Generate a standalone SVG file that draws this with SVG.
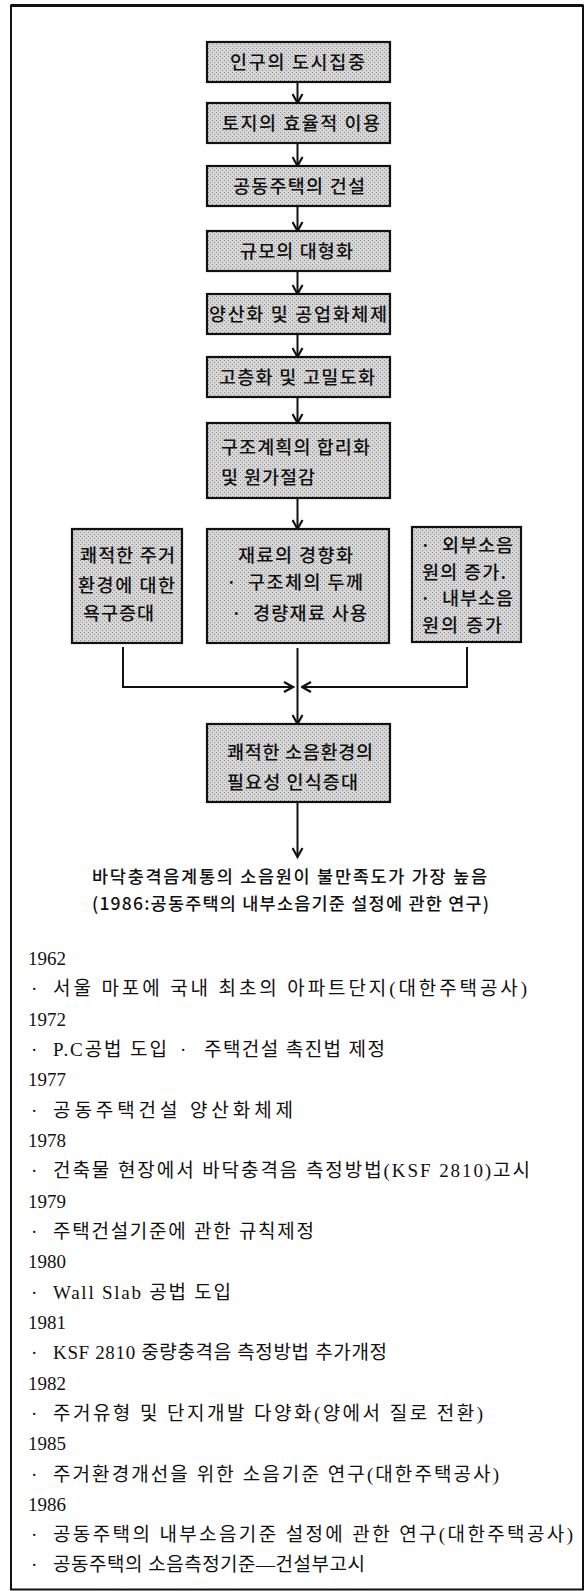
<svg xmlns="http://www.w3.org/2000/svg" width="586" height="1591" viewBox="0 0 586 1591">
<style>
.bx{fill:url(#stip);stroke:#111;stroke-width:2.2}
.bt{font-family:"Noto Sans CJK KR","Noto Sans",sans-serif;font-size:18.5px;font-weight:500;fill:#111}
.ct{font-family:"Noto Sans CJK KR","Noto Sans",sans-serif;font-size:17.5px;font-weight:500;fill:#111}
.tl{font-family:"Liberation Serif","Noto Sans CJK KR",serif;font-size:19px;fill:#111}
.ln{fill:none;stroke:#111;stroke-width:2}
.ar{fill:none;stroke:#111;stroke-width:2;marker-end:url(#ah)}
</style>
<defs>
<pattern id="stip" width="4" height="4" patternUnits="userSpaceOnUse">
<rect width="4" height="4" fill="#d6d6d6"/>
<rect x="0" y="0" width="1" height="1" fill="#8c8c8c"/>
<rect x="2" y="2" width="1" height="1" fill="#8c8c8c"/>
</pattern>
<marker id="ah" markerUnits="userSpaceOnUse" viewBox="0 0 12 12" refX="10.5" refY="6" markerWidth="12" markerHeight="12" orient="auto">
<path d="M1.5,1 L10.5,6 L1.5,11" fill="none" stroke="#111" stroke-width="2.2"/>
</marker>
</defs>
<rect x="0" y="0" width="586" height="1591" fill="#fff"/>
<rect x="11" y="5.5" width="572" height="1584" fill="none" stroke="#111" stroke-width="2"/>
<line x1="11" y1="5.5" x2="583" y2="5.5" stroke="#111" stroke-width="3"/>

<g id="connectors">
<line class="ar" x1="297.5" y1="82" x2="297.5" y2="103"/>
<line class="ar" x1="297.5" y1="143" x2="297.5" y2="166"/>
<line class="ar" x1="297.5" y1="206" x2="297.5" y2="231"/>
<line class="ar" x1="297.5" y1="271" x2="297.5" y2="294"/>
<line class="ar" x1="297.5" y1="334" x2="297.5" y2="357"/>
<line class="ar" x1="297.5" y1="397" x2="297.5" y2="423"/>
<line class="ar" x1="297.5" y1="498" x2="297.5" y2="529"/>
<polyline class="ar" points="123,647 123,687 293,687"/>
<polyline class="ar" points="467,647 467,687 302,687"/>
<line class="ar" x1="297.5" y1="648" x2="297.5" y2="724"/>
<line class="ar" x1="297.5" y1="802" x2="297.5" y2="857"/>
</g>

<g id="n1"><rect class="bx" x="207" y="42" width="183" height="40"/>
<text class="bt" x="230" y="68.5" textLength="135">인구의 도시집중</text></g>
<g id="n2"><rect class="bx" x="207" y="103" width="183" height="40"/>
<text class="bt" x="222" y="129.5" textLength="158">토지의 효율적 이용</text></g>
<g id="n3"><rect class="bx" x="207" y="166" width="183" height="40"/>
<text class="bt" x="233" y="192.5" textLength="132">공동주택의 건설</text></g>
<g id="n4"><rect class="bx" x="207" y="231" width="183" height="40"/>
<text class="bt" x="240" y="257.5" textLength="113">규모의 대형화</text></g>
<g id="n5"><rect class="bx" x="207" y="294" width="183" height="40"/>
<text class="bt" x="209" y="320.5" textLength="178">양산화 및 공업화체제</text></g>
<g id="n6"><rect class="bx" x="207" y="357" width="183" height="40"/>
<text class="bt" x="219" y="383.5" textLength="156">고층화 및 고밀도화</text></g>
<g id="n7"><rect class="bx" x="207" y="423" width="183" height="75"/>
<text class="bt" x="221" y="453.5" textLength="149">구조계획의 합리화</text>
<text class="bt" x="221" y="483.5" textLength="94">및 원가절감</text></g>
<g id="n8"><rect class="bx" x="72" y="529" width="110" height="114"/>
<text class="bt" x="80" y="561.5" textLength="95">쾌적한 주거</text>
<text class="bt" x="78" y="591.5" textLength="97">환경에 대한</text>
<text class="bt" x="83" y="619.5" textLength="71">욕구증대</text></g>
<g id="n9"><rect class="bx" x="207" y="529" width="182" height="114"/>
<text class="bt" x="238" y="561.5" textLength="115">재료의 경향화</text>
<text class="bt" x="226" y="588.5">·</text>
<text class="bt" x="248" y="588.5" textLength="115">구조체의 두께</text>
<text class="bt" x="231" y="619.5">·</text>
<text class="bt" x="253" y="619.5" textLength="114">경량재료 사용</text></g>
<g id="n10"><rect class="bx" x="412" y="527" width="109" height="115"/>
<text class="bt" x="420" y="551.5">·</text>
<text class="bt" x="442" y="551.5" textLength="71">외부소음</text>
<text class="bt" x="422" y="578.5" textLength="84">원의 증가.</text>
<text class="bt" x="420" y="604.5">·</text>
<text class="bt" x="442" y="604.5" textLength="71">내부소음</text>
<text class="bt" x="422" y="631.5" textLength="80">원의 증가</text></g>
<g id="n11"><rect class="bx" x="207" y="724" width="183" height="78"/>
<text class="bt" x="227" y="758.5" textLength="146">쾌적한 소음환경의</text>
<text class="bt" x="227" y="788.5" textLength="131">필요성 인식증대</text></g>

<g id="result">
<text class="ct" x="92" y="883" textLength="395">바닥충격음계통의 소음원이 불만족도가 가장 높음</text>
<text class="ct" x="92" y="910" textLength="397">(1986:공동주택의 내부소음기준 설정에 관한 연구)</text>
</g>

<g id="timeline">
<text class="tl" x="28" y="965">1962</text>
<text class="tl" x="31" y="995">·</text><text class="tl" x="53" y="995" textLength="474">서울 마포에 국내 최초의 아파트단지(대한주택공사)</text>
<text class="tl" x="28" y="1025.5">1972</text>
<text class="tl" x="31" y="1056">·</text><text class="tl" x="53" y="1056" textLength="114">P.C공법 도입</text>
<text class="tl" x="180" y="1056">·</text><text class="tl" x="204" y="1056" textLength="181">주택건설 촉진법 제정</text>
<text class="tl" x="28" y="1086">1977</text>
<text class="tl" x="31" y="1116.5">·</text><text class="tl" x="53" y="1116.5" textLength="240">공동주택건설 양산화체제</text>
<text class="tl" x="28" y="1147">1978</text>
<text class="tl" x="31" y="1177">·</text><text class="tl" x="53" y="1177" textLength="477">건축물 현장에서 바닥충격음 측정방법(KSF 2810)고시</text>
<text class="tl" x="28" y="1207.5">1979</text>
<text class="tl" x="31" y="1238">·</text><text class="tl" x="53" y="1238" textLength="261">주택건설기준에 관한 규칙제정</text>
<text class="tl" x="28" y="1268">1980</text>
<text class="tl" x="31" y="1298.5">·</text><text class="tl" x="53" y="1298.5" textLength="178">Wall Slab 공법 도입</text>
<text class="tl" x="28" y="1329">1981</text>
<text class="tl" x="31" y="1359">·</text><text class="tl" x="53" y="1359" textLength="334">KSF 2810 중량충격음 측정방법 추가개정</text>
<text class="tl" x="28" y="1389.5">1982</text>
<text class="tl" x="31" y="1420">·</text><text class="tl" x="53" y="1420" textLength="430">주거유형 및 단지개발 다양화(양에서 질로 전환)</text>
<text class="tl" x="28" y="1450">1985</text>
<text class="tl" x="31" y="1480.5">·</text><text class="tl" x="53" y="1480.5" textLength="446">주거환경개선을 위한 소음기준 연구(대한주택공사)</text>
<text class="tl" x="28" y="1511">1986</text>
<text class="tl" x="31" y="1541">·</text><text class="tl" x="53" y="1541" textLength="520">공동주택의 내부소음기준 설정에 관한 연구(대한주택공사)</text>
<text class="tl" x="31" y="1571">·</text><text class="tl" x="53" y="1571" textLength="312">공동주택의 소음측정기준—건설부고시</text>
</g>
</svg>
